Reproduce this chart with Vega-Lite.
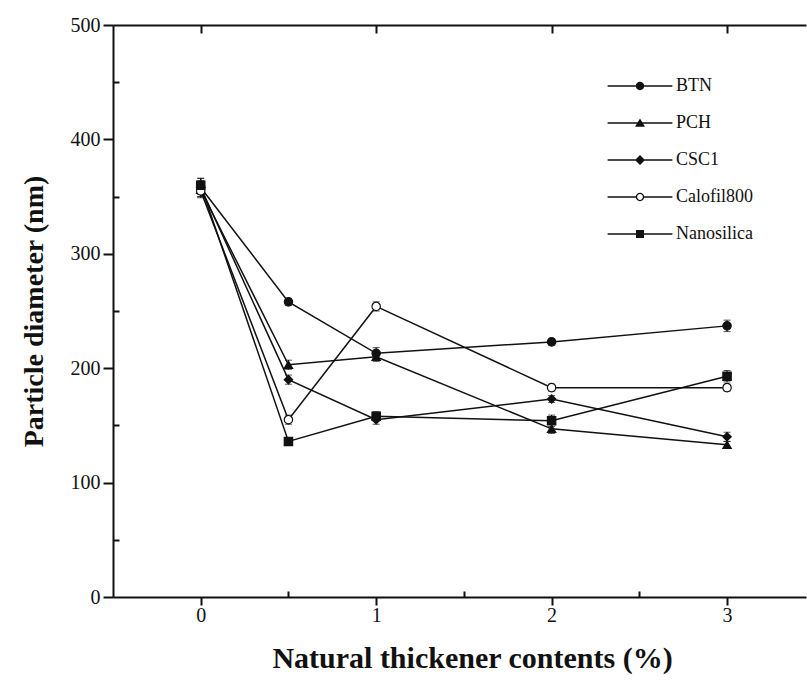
{
  "$schema": "https://vega.github.io/schema/vega-lite/v6.json",
  "autosize": "none",
  "width": 693,
  "height": 572,
  "padding": {"left": 113, "top": 25, "right": 1, "bottom": 85},
  "background": "white",
  "config": {
    "view": {"stroke": null},
    "font": "Liberation Serif",
    "axis": {"grid": false, "domainColor": "#111", "domainWidth": 2, "tickColor": "#111", "tickWidth": 2,
             "labelFont": "Liberation Serif", "labelFontSize": 20, "labelColor": "#111",
             "titleFont": "Liberation Serif", "titleFontSize": 28, "titleFontWeight": "bold", "titleColor": "#111"}
  },
  "data": {"values": [
    {"s": "BTN", "x": 0, "d": 358, "err": 8},
    {"s": "BTN", "x": 0.5, "d": 258, "err": 3},
    {"s": "BTN", "x": 1, "d": 213, "err": 5},
    {"s": "BTN", "x": 2, "d": 223, "err": 3},
    {"s": "BTN", "x": 3, "d": 237, "err": 5},
    {"s": "PCH", "x": 0, "d": 356, "err": 6},
    {"s": "PCH", "x": 0.5, "d": 203, "err": 4},
    {"s": "PCH", "x": 1, "d": 210, "err": 4},
    {"s": "PCH", "x": 2, "d": 147, "err": 4},
    {"s": "PCH", "x": 3, "d": 133, "err": 3},
    {"s": "CSC1", "x": 0, "d": 358, "err": 6},
    {"s": "CSC1", "x": 0.5, "d": 190, "err": 4},
    {"s": "CSC1", "x": 1, "d": 155, "err": 4},
    {"s": "CSC1", "x": 2, "d": 173, "err": 3},
    {"s": "CSC1", "x": 3, "d": 140, "err": 4},
    {"s": "Calofil800", "x": 0, "d": 355, "err": 6},
    {"s": "Calofil800", "x": 0.5, "d": 155, "err": 4},
    {"s": "Calofil800", "x": 1, "d": 254, "err": 4},
    {"s": "Calofil800", "x": 2, "d": 183, "err": 3},
    {"s": "Calofil800", "x": 3, "d": 183, "err": 3},
    {"s": "Nanosilica", "x": 0, "d": 360, "err": 6},
    {"s": "Nanosilica", "x": 0.5, "d": 136, "err": 3},
    {"s": "Nanosilica", "x": 1, "d": 158, "err": 4},
    {"s": "Nanosilica", "x": 2, "d": 154, "err": 5},
    {"s": "Nanosilica", "x": 3, "d": 193, "err": 5}
  ]},
  "resolve": {"axis": {"x": "independent", "y": "independent"}, "scale": {"shape": "independent"}},
  "layer": [
    {
      "mark": {"type": "line", "color": "#111", "strokeWidth": 1.5},
      "encoding": {
        "x": {"field": "x", "type": "quantitative", "scale": {"domain": [-0.5, 3.45], "nice": false, "zero": false},
              "axis": {"orient": "bottom", "values": [0, 0.5, 1, 1.5, 2, 2.5, 3],
                       "labelExpr": "datum.value % 1 === 0 ? format(datum.value, 'd') : ''",
                       "tickSize": {"condition": {"test": "datum.value % 1 !== 0", "value": -6}, "value": 8},
                       "labelPadding": 0, "title": "Natural thickener contents (%)", "titleFontSize": 30, "titlePadding": 18,
                       "titleX": 359}},
        "y": {"field": "d", "type": "quantitative", "scale": {"domain": [0, 500], "nice": false},
              "axis": {"orient": "left", "values": [0, 50, 100, 150, 200, 250, 300, 350, 400, 450, 500],
                       "labelExpr": "datum.value % 100 === 0 ? datum.label : ''",
                       "tickSize": {"condition": {"test": "datum.value % 100 !== 0", "value": -6}, "value": 10},
                       "labelPadding": 3, "title": "Particle diameter (nm)", "titlePadding": 22}},
        "detail": {"field": "s"}
      }
    },
    {
      "mark": {"type": "errorbar", "color": "#111", "ticks": {"size": 7, "strokeWidth": 1.2}, "rule": {"strokeWidth": 1.2}},
      "encoding": {
        "x": {"field": "x", "type": "quantitative", "axis": null},
        "y": {"field": "d", "type": "quantitative", "axis": null},
        "yError": {"field": "err"},
        "detail": {"field": "s"}
      }
    },
    {
      "mark": {"type": "point", "filled": true, "size": 70, "stroke": "#111", "strokeWidth": 1.2, "opacity": 1},
      "encoding": {
        "x": {"field": "x", "type": "quantitative",
              "axis": {"orient": "top", "values": [0, 1, 2, 3], "labels": false, "tickSize": -8, "title": null}},
        "y": {"field": "d", "type": "quantitative", "axis": null},
        "shape": {"field": "s", "type": "nominal",
                  "scale": {"domain": ["BTN", "PCH", "CSC1", "Calofil800", "Nanosilica"],
                            "range": ["circle", "triangle-up", "diamond", "circle", "square"]},
                  "legend": null},
        "fill": {"field": "s", "type": "nominal",
                 "scale": {"domain": ["BTN", "PCH", "CSC1", "Calofil800", "Nanosilica"],
                           "range": ["#111", "#111", "#111", "white", "#111"]},
                 "legend": null}
      }
    },
    {
      "transform": [{"filter": "false"}],
      "mark": {"type": "point", "filled": true, "color": "#111", "size": 64},
      "encoding": {
        "x": {"field": "x", "type": "quantitative", "axis": null},
        "y": {"field": "d", "type": "quantitative", "axis": null},
        "shape": {"field": "s", "type": "nominal",
                  "scale": {"domain": ["BTN", "PCH", "CSC1", "Calofil800", "Nanosilica"],
                            "range": [
                              "M-8.1,-0.18H-0.5V0.18H-8.1Z M0.5,-0.18H8.1V0.18H0.5Z M-1.05,0A1.05,1.05 0 1,1 1.05,0A1.05,1.05 0 1,1 -1.05,0Z",
                              "M-8.1,-0.18H-0.5V0.18H-8.1Z M0.5,-0.18H8.1V0.18H0.5Z M0,-1.15L1.25,0.95L-1.25,0.95Z",
                              "M-8.1,-0.18H-0.5V0.18H-8.1Z M0.5,-0.18H8.1V0.18H0.5Z M0,-1.25L1.25,0L0,1.25L-1.25,0Z",
                              "M-8.1,-0.18H-1V0.18H-8.1Z M1,-0.18H8.1V0.18H1Z M-1.05,0A1.05,1.05 0 1,1 1.05,0A1.05,1.05 0 1,1 -1.05,0Z M-0.72,0A0.72,0.72 0 1,0 0.72,0A0.72,0.72 0 1,0 -0.72,0Z",
                              "M-8.1,-0.18H-0.5V0.18H-8.1Z M0.5,-0.18H8.1V0.18H0.5Z M-1,-1H1V1H-1Z"
                            ]},
                  "legend": {"orient": "none", "legendX": 518, "legendY": 52, "title": null, "padding": 0,
                             "symbolSize": 64, "symbolStrokeWidth": 0, "symbolFillColor": "#111", "symbolOpacity": 1,
                             "labelOffset": 27, "rowPadding": 19,
                             "labelFont": "Liberation Serif", "labelFontSize": 18, "labelColor": "#111"}}
      }
    }
  ]
}
